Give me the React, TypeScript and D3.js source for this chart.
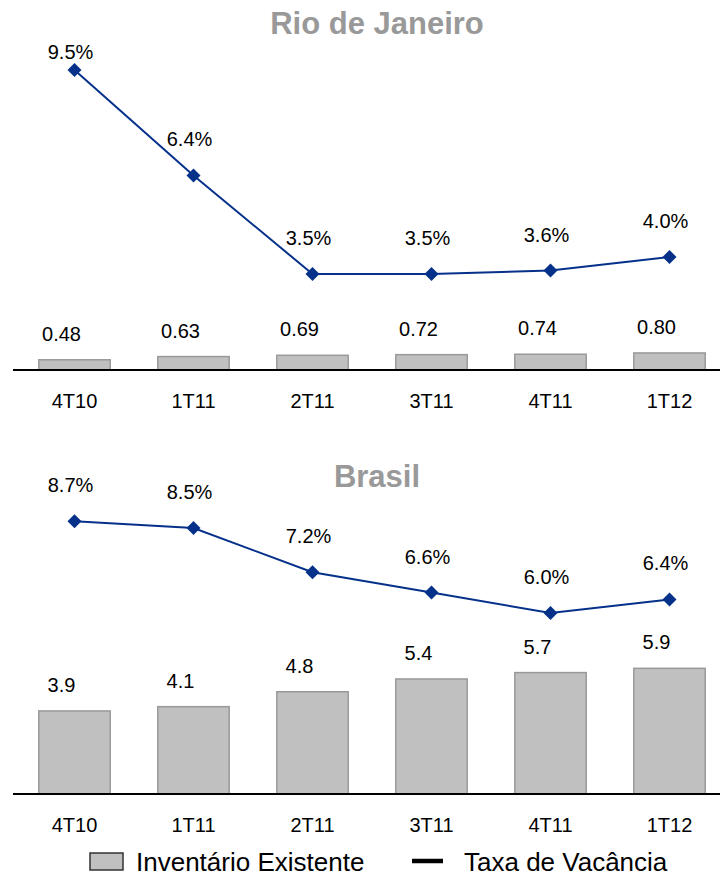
import { useEffect } from "react";
import * as d3 from "d3";

const quarters = ["4T10", "1T11", "2T11", "3T11", "4T11", "1T12"];

const rioInventory = [0.48, 0.63, 0.69, 0.72, 0.74, 0.8];
const rioVacancy = [9.5, 6.4, 3.5, 3.5, 3.6, 4.0];

const brInventory = [3.9, 4.1, 4.8, 5.4, 5.7, 5.9];
const brVacancy = [8.7, 8.5, 7.2, 6.6, 6.0, 6.4];

const FONT = "'Liberation Sans', Arial, Helvetica, sans-serif";
const WIDTH = 720;
const HEIGHT = 876;
const LINE_COLOR = "#06318a";

const x = d3
  .scaleBand<string>()
  .domain(quarters)
  .range([15, 729])
  .paddingInner(0.4)
  .paddingOuter(0.2);

type PanelProps = {
  title: string;
  titleY: number;
  axisY: number;
  inventory: number[];
  vacancy: number[];
  labelTop: number;
};

function Panel({ title, titleY, axisY, inventory, vacancy, labelTop }: PanelProps) {
  const barY = d3.scaleLinear().domain([0, 10]).range([axisY, axisY - 213]);
  const lineY = d3.scaleLinear().domain([0, 10]).range([axisY + 23, axisY + 23 - 340]);
  const cx = (q: string) => (x(q) as number) + x.bandwidth() / 2;

  const line = d3
    .line<number>()
    .x((_, i) => cx(quarters[i]))
    .y((d) => lineY(d));

  const diamond = d3.symbol().type(d3.symbolDiamond2).size(125);

  return (
    <g>
      <text
        x={377}
        y={titleY}
        textAnchor="middle"
        fontFamily={FONT}
        fontSize={31}
        fontWeight="bold"
        fill="#999999"
      >
        {title}
      </text>

      {/* bars */}
      {inventory.map((v, i) => (
        <rect
          key={"b" + i}
          x={x(quarters[i])}
          y={barY(v)}
          width={x.bandwidth()}
          height={axisY - barY(v)}
          fill="#c0c0c0"
          stroke="#999999"
          strokeWidth={1.5}
        />
      ))}
      {inventory.map((v, i) => (
        <text
          key={"bl" + i}
          x={cx(quarters[i]) - 13}
          y={barY(v) - 19}
          textAnchor="middle"
          fontFamily={FONT}
          fontSize={20}
          fill="#000"
        >
          {title === "Brasil" ? v.toFixed(1) : v.toFixed(2)}
        </text>
      ))}

      {/* axis */}
      <line x1={13} x2={WIDTH} y1={axisY} y2={axisY} stroke="#000" strokeWidth={2} />
      {quarters.map((q) => (
        <text
          key={q}
          x={cx(q)}
          y={axisY + 38}
          textAnchor="middle"
          fontFamily={FONT}
          fontSize={20}
          fill="#000"
        >
          {q}
        </text>
      ))}

      {/* vacancy line */}
      <path d={line(vacancy) as string} fill="none" stroke={LINE_COLOR} strokeWidth={2} />
      {vacancy.map((v, i) => (
        <path
          key={"m" + i}
          d={diamond() as string}
          transform={`translate(${cx(quarters[i])},${lineY(v)})`}
          fill={LINE_COLOR}
        />
      ))}
      {vacancy.map((v, i) => (
        <text
          key={"ml" + i}
          x={cx(quarters[i]) - 4}
          y={Math.max(lineY(v) - 29, labelTop)}
          textAnchor="middle"
          fontFamily={FONT}
          fontSize={20}
          fill="#000"
        >
          {v.toFixed(1) + "%"}
        </text>
      ))}
    </g>
  );
}

export default function App() {
  useEffect(() => {
    document.body.style.margin = "0";
  }, []);

  return (
    <svg width={WIDTH} height={HEIGHT} style={{ display: "block", background: "#fff" }}>
      <Panel
        title="Rio de Janeiro"
        titleY={34}
        axisY={370}
        inventory={rioInventory}
        vacancy={rioVacancy}
        labelTop={59}
      />
      <Panel
        title="Brasil"
        titleY={487}
        axisY={794}
        inventory={brInventory}
        vacancy={brVacancy}
        labelTop={480}
      />

      {/* legend */}
      <rect x={90} y={853} width={33} height={17} fill="#c0c0c0" stroke="#333" strokeWidth={1.5} />
      <text x={136} y={871} fontFamily={FONT} fontSize={26} fill="#000">
        Inventário Existente
      </text>
      <line x1={412} x2={443} y1={861} y2={861} stroke="#000" strokeWidth={4.5} />
      <text x={464} y={871} fontFamily={FONT} fontSize={26} fill="#000">
        Taxa de Vacância
      </text>
    </svg>
  );
}
